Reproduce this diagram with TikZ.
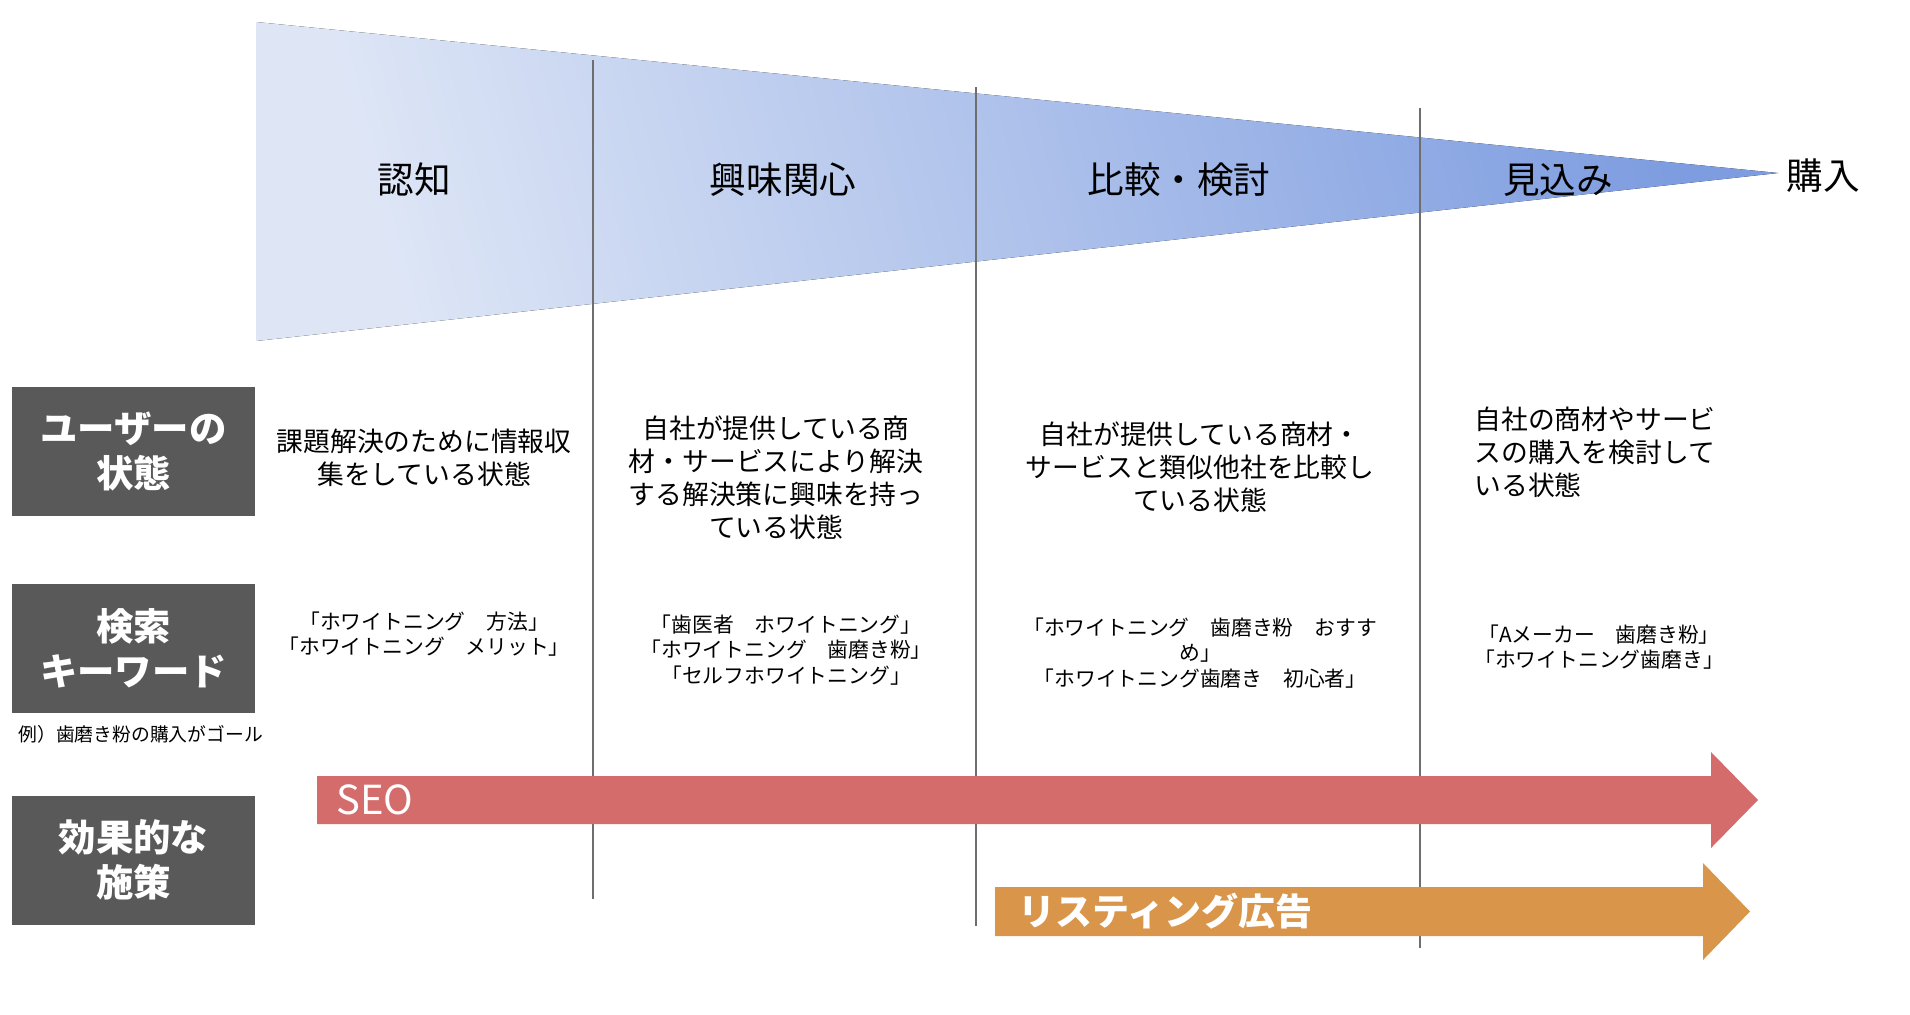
\documentclass[tikz,border=0pt]{standalone}
\usepackage{fontspec}
\setmainfont{Noto Sans CJK JP}
\usepackage{tikz}
\usetikzlibrary{positioning}
\definecolor{funnellight}{RGB}{222,230,246}
\definecolor{funneldark}{RGB}{126,157,224}
\definecolor{boxgrau}{RGB}{89,89,89}
\definecolor{linegrau}{RGB}{110,110,110}
\definecolor{seorot}{RGB}{212,108,107}
\definecolor{adorange}{RGB}{217,149,74}

\begin{document}
\begin{tikzpicture}[
        x=0.5pt, y=-0.5pt,
        stage/.style={inner sep=0pt, font=\fontsize{18.3}{22}\selectfont},
        rowlabel/.style={fill=boxgrau, text=white, minimum width=121.5pt, minimum height=64.5pt, align=center, inner sep=0pt, font=\fontsize{18.7}{22.5}\selectfont\bfseries},
        desc/.style={inner sep=0pt, align=center, font=\fontsize{13.4}{16.5}\selectfont},
        keyword/.style={inner sep=0pt, align=center, font=\fontsize{10.4}{12.6}\selectfont},
        divider/.style={draw=linegrau, line width=0.75pt},
        arrowlabel/.style={inner sep=0pt, anchor=west, text=white}
    ]
        \useasboundingbox (0,0) rectangle (1910,1014);
        \fill[left color=funnellight, right color=funneldark, shading angle=105] (256,22) -- (1778,173) -- (256,341) -- cycle;
        \draw[divider] (593,60) -- (593,899);
        \draw[divider] (976,87) -- (976,926);
        \draw[divider] (1420,108) -- (1420,948);
        \node[stage] (ninchi) at (414,180) {認知};
        \node[stage] (kyomi) at (783,180) {興味関心};
        \node[stage] (hikaku) at (1179,180) {比較・検討};
        \node[stage] (mikomi) at (1558,180) {見込み};
        \node[stage] (konyu) at (1823,176) {購入};
        \node[rowlabel] (userstate) at (133.5,451.5) {ユーザーの\\状態};
        \node[rowlabel] (keywords) at (133.5,648) {検索\\キーワード};
        \node[rowlabel] (measures) at (133.5,860) {効果的な\\施策};
        \node[inner sep=0pt, anchor=west, font=\fontsize{9.4}{11}\selectfont] (example) at (18,734) {例）歯磨き粉の購入がゴール};
        \node[desc] (desc1) at (424,458) {課題解決のために情報収\\集をしている状態};
        \node[desc] (desc2) at (776,478) {自社が提供している商\\材・サービスにより解決\\する解決策に興味を持っ\\ている状態};
        \node[desc] (desc3) at (1200,467) {自社が提供している商材・\\サービスと類似他社を比較し\\ている状態};
        \node[desc, anchor=west, align=left] (desc4) at (1474,452) {自社の商材やサービ\\スの購入を検討して\\いる状態};
        \node[keyword] (kw1) at (424,634) {「ホワイトニング　方法」\\「ホワイトニング　メリット」};
        \node[keyword] (kw2) at (786,650) {「歯医者　ホワイトニング」\\「ホワイトニング　歯磨き粉」\\「セルフホワイトニング」};
        \node[keyword] (kw3) at (1200,653) {「ホワイトニング　歯磨き粉　おすす\\め」\\「ホワイトニング歯磨き　初心者」};
        \node[keyword] (kw4) at (1599,647) {「Aメーカー　歯磨き粉」\\「ホワイトニング歯磨き」};
        \fill[seorot] (317,776) -- (1711,776) -- (1711,752) -- (1758,800) -- (1711,848) -- (1711,824) -- (317,824) -- cycle;
        \node[arrowlabel, font=\fontsize{20}{24}\selectfont] (seo) at (336,800) {SEO};
        \fill[adorange] (995,887) -- (1703,887) -- (1703,863) -- (1750,911.5) -- (1703,960) -- (1703,936) -- (995,936) -- cycle;
        \node[arrowlabel, font=\fontsize{18.5}{22}\selectfont\bfseries] (listing) at (1018,911.5) {リスティング広告};
    \end{tikzpicture}
\end{document}
